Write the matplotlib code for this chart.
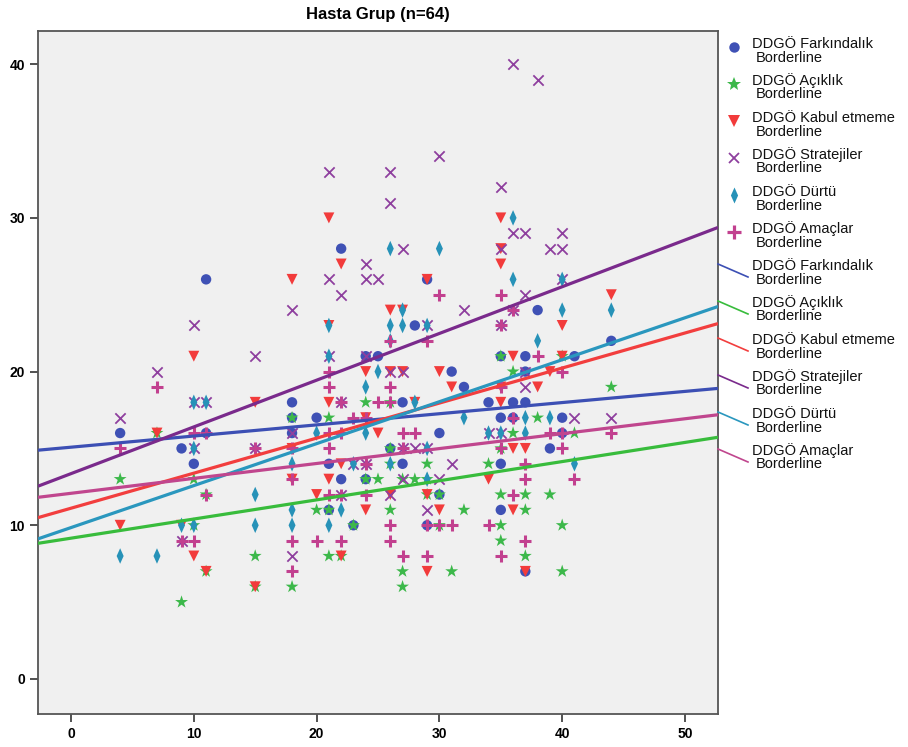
import matplotlib
matplotlib.use("Agg")
import matplotlib.pyplot as plt
from matplotlib.lines import Line2D
from matplotlib.path import Path
import numpy as np

# ---------------- data ----------------
series_names = ["DDGÖ Farkındalık", "DDGÖ Açıklık", "DDGÖ Kabul etmeme",
                "DDGÖ Stratejiler", "DDGÖ Dürtü", "DDGÖ Amaçlar"]
sub_label = "Borderline"

farkindalik_x = [4, 9, 10, 11, 11, 18, 18, 18, 20, 21, 21, 22, 22, 23, 24, 24, 25, 26, 27, 27, 28, 29, 29, 30, 30,
                 31, 32, 34, 35, 35, 35, 35, 36, 36, 37, 37, 37, 37, 38, 39, 40, 40, 41, 44]
farkindalik_y = [16, 15, 14, 26, 16, 18, 17, 16, 17, 14, 11, 28, 13, 10, 21, 13, 21, 15, 18, 14, 23, 26, 10, 16, 12,
                 20, 19, 18, 21, 17, 14, 11, 18, 17, 21, 20, 18, 7, 24, 15, 17, 16, 21, 22]

aciklik_x = [4, 7, 9, 10, 10, 11, 11, 15, 15, 18, 18, 20, 21, 21, 21, 22, 23, 24, 24, 25, 26, 26, 26, 26, 27, 27, 27,
             28, 29, 29, 29, 30, 30, 31, 32, 34, 35, 35, 35, 35, 35, 36, 36, 37, 37, 37, 38, 39, 40, 40, 40, 41, 44]
aciklik_y = [13, 16, 5, 13, 10, 12, 7, 8, 6, 17, 6, 11, 17, 11, 8, 8, 10, 18, 13, 13, 18, 15, 14, 11, 13, 7, 6,
             13, 14, 13, 12, 12, 10, 7, 11, 14, 21, 15, 12, 10, 9, 20, 16, 12, 11, 8, 17, 12, 21, 10, 7, 16, 19]

kabul_x = [4, 7, 9, 10, 10, 11, 15, 15, 18, 18, 18, 20, 21, 21, 21, 21, 22, 22, 22, 24, 24, 24, 25, 26, 26, 26,
           27, 27, 28, 29, 29, 29, 30, 30, 31, 34, 35, 35, 35, 35, 35, 36, 36, 36, 37, 37, 38, 39, 40, 40, 44]
kabul_y = [10, 16, 10, 21, 8, 7, 18, 6, 26, 15, 13, 12, 30, 23, 18, 13, 27, 14, 8, 20, 17, 11, 16, 24, 20, 12,
           24, 20, 18, 26, 12, 7, 20, 11, 19, 13, 30, 28, 27, 19, 18, 21, 15, 11, 15, 7, 19, 20, 23, 21, 25]

stratejiler_x = [4, 7, 9, 10, 10, 10, 11, 15, 15, 18, 18, 18, 21, 21, 21, 22, 22, 22, 23, 24, 24, 24, 24, 25, 26,
                 26, 26, 26, 27, 27, 27, 27, 28, 29, 29, 29, 30, 30, 31, 32, 34, 35, 35, 35, 35, 36, 36, 36, 37, 37,
                 37, 37, 38, 39, 40, 40, 40, 41, 44]
stratejiler_y = [17, 20, 9, 23, 18, 15, 18, 21, 15, 24, 16, 8, 33, 26, 21, 25, 18, 12, 14, 27, 26, 21, 14, 26, 33,
                 31, 20, 12, 28, 20, 15, 13, 15, 23, 15, 11, 34, 13, 14, 24, 16, 32, 28, 23, 16, 40, 29, 24, 29, 25,
                 20, 19, 39, 28, 29, 28, 26, 17, 17]

durtu_x = [4, 7, 9, 10, 10, 10, 11, 15, 15, 18, 18, 18, 20, 21, 21, 21, 22, 23, 24, 24, 25, 26, 26, 26, 26, 27, 27,
           28, 29, 29, 29, 30, 32, 34, 35, 36, 36, 37, 37, 38, 39, 40, 40, 41, 44]
durtu_y = [8, 8, 10, 18, 15, 10, 18, 12, 10, 14, 11, 10, 16, 23, 21, 10, 11, 14, 19, 16, 20, 28, 23, 22, 14, 24, 23,
           18, 23, 15, 13, 28, 17, 16, 16, 30, 26, 17, 16, 22, 17, 26, 24, 14, 24]

amaclar_x = [4, 7, 9, 10, 10, 11, 11, 15, 18, 18, 18, 18, 20, 21, 21, 21, 21, 21, 22, 22, 22, 22, 23, 24, 24, 24,
             25, 26, 26, 26, 26, 26, 27, 27, 27, 28, 29, 29, 29, 30, 30, 31, 34, 35, 35, 35, 35, 35, 36, 36, 36,
             37, 37, 37, 38, 39, 40, 40, 40, 41, 44]
amaclar_y = [15, 19, 9, 16, 9, 16, 12, 15, 15, 13, 9, 7, 9, 20, 19, 16, 15, 12, 18, 16, 12, 9, 17, 17, 14, 12,
             18, 22, 19, 18, 10, 9, 16, 15, 8, 16, 22, 10, 8, 25, 10, 10, 10, 25, 23, 19, 15, 8, 24, 17, 12,
             14, 13, 9, 21, 16, 20, 16, 15, 13, 16]

# fitted line coefficients (intercept, slope)
fit_intercepts = [15.08, 9.16, 11.11, 13.36, 9.85, 12.08]
fit_slopes = [0.0726, 0.1246, 0.228, 0.304, 0.273, 0.097]

xs_all = [farkindalik_x, aciklik_x, kabul_x, stratejiler_x, durtu_x, amaclar_x]
ys_all = [farkindalik_y, aciklik_y, kabul_y, stratejiler_y, durtu_y, amaclar_y]

# ---------------- styles ----------------
narrow_diamond = Path([(0, 1), (0.45, 0), (0, -1), (-0.45, 0), (0, 1)],
                      [Path.MOVETO, Path.LINETO, Path.LINETO, Path.LINETO, Path.CLOSEPOLY])
marker_colors = ["#3f51b5", "#3cb84a", "#f23b3b", "#8e3f9e", "#2792b8", "#c2408f"]
line_colors = ["#3c4fb4", "#38bc3c", "#f23e3e", "#7a2a8c", "#2a97be", "#c0468e"]
markers = ["o", "*", "v", "x", narrow_diamond, "+"]
sizes = [56, 95, 62, 55, 125, 85]
lws = [0, 0, 0, 1.3, 0, 2.2]
legend_ms = [7.5, 10.5, 8.0, 7.5, 11.5, 9.5]
legend_mew = [0, 0, 0, 1.3, 0, 2.3]

W, H = 908, 747
fig = plt.figure(figsize=(W / 100, H / 100), dpi=100)
fig.patch.set_facecolor("white")

ax_l, ax_r, ax_t, ax_b = 38, 718, 31, 714
ax = fig.add_axes([ax_l / W, 1 - ax_b / H, (ax_r - ax_l) / W, (ax_b - ax_t) / H])
ax.set_facecolor("#f0f0f0")

xmin, xmax = -2.69, 52.69
ax.set_xlim(xmin, xmax)
ax.set_ylim(-2.28, 42.16)

for i in range(6):
    kw = dict(marker=markers[i], s=sizes[i], zorder=3 + i * 0.1)
    if i in (3, 5):
        ax.scatter(xs_all[i], ys_all[i], c=marker_colors[i], linewidths=lws[i], **kw)
    else:
        ax.scatter(xs_all[i], ys_all[i], c=marker_colors[i], edgecolors="none", **kw)

xx = np.array([xmin, xmax])
for i in range(6):
    ax.plot(xx, fit_intercepts[i] + fit_slopes[i] * xx, color=line_colors[i], lw=2.3,
            zorder=5, solid_capstyle="butt")

tick_font = ["Liberation Sans Narrow", "Liberation Sans", "DejaVu Sans"]
ax.set_xticks([0, 10, 20, 30, 40, 50])
ax.set_yticks([0, 10, 20, 30, 40])
ax.tick_params(direction="out", length=6, width=1.2, color="#333333", labelsize=10)
for lab in ax.get_xticklabels() + ax.get_yticklabels():
    lab.set_family(tick_font)
    lab.set_fontweight("bold")
for sp in ax.spines.values():
    sp.set_color("#555555")
    sp.set_linewidth(1.3)

fig.text((ax_l + ax_r) / 2 / W, 1 - 15 / H, "Hasta Grup (n=64)", ha="center", va="center",
         fontsize=12, fontweight="bold", family=tick_font)

# ---------------- legend (manual, right side) ----------------
leg_font = ["Liberation Sans", "DejaVu Sans"]
y0 = 44
step = 37.0
for k in range(12):
    yc = y0 + k * step
    i = k % 6
    fig.text(752 / W, 1 - yc / H, series_names[i], ha="left", va="center", fontsize=10.5,
             family=leg_font, color="#111111")
    fig.text(756 / W, 1 - (yc + 13.5) / H, sub_label, ha="left", va="center", fontsize=10.5,
             family=leg_font, color="#111111")
    if k < 6:
        ln = Line2D([734 / W], [1 - (yc + 3) / H], marker=markers[i], linestyle="none",
                    markersize=legend_ms[i], color=marker_colors[i], markeredgewidth=legend_mew[i],
                    transform=fig.transFigure)
        fig.add_artist(ln)
    else:
        ln = Line2D([ax_r / W, 748 / W], [1 - (yc - 2) / H, 1 - (yc + 11) / H],
                    color=line_colors[i], lw=1.2, transform=fig.transFigure)
        fig.add_artist(ln)

fig.savefig("out.png", dpi=100, facecolor="white")
